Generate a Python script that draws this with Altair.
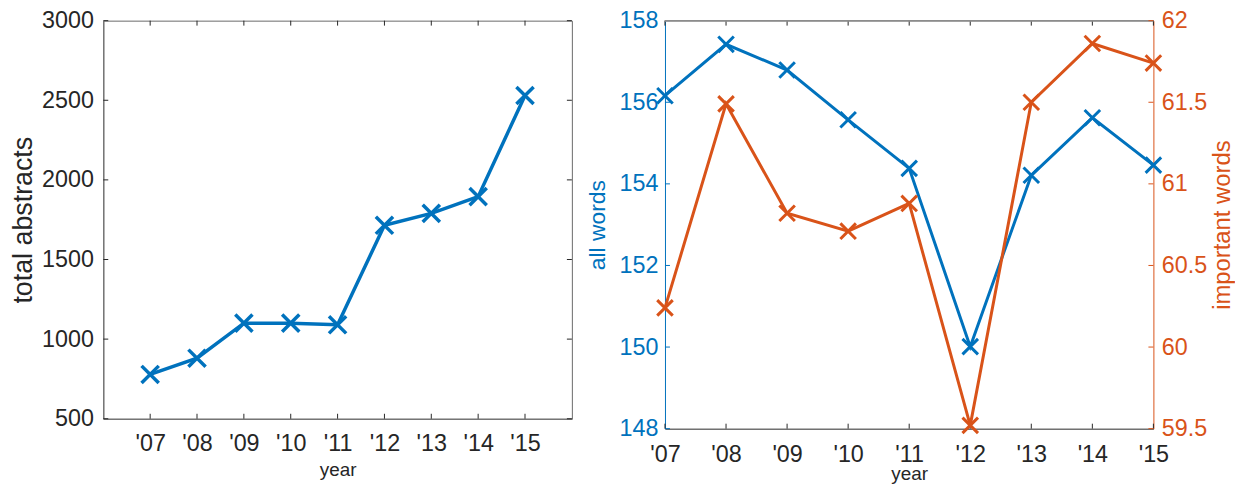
import json
import altair as alt
import pandas as pd

# ---- data ----
years = [7, 8, 9, 10, 11, 12, 13, 14, 15]
year_labels = ["'07", "'08", "'09", "'10", "'11", "'12", "'13", "'14", "'15"]
total_abstracts = [778, 880, 1100, 1100, 1090, 1715, 1790, 1895, 2530]
all_words = [156.16, 157.42, 156.79, 155.57, 154.38, 150.01, 154.21, 155.62, 154.46]
important_words = [60.24, 61.49, 60.82, 60.71, 60.88, 59.52, 61.50, 61.86, 61.74]
left_ticks = [500, 1000, 1500, 2000, 2500, 3000]
allw_ticks = [148, 150, 152, 154, 156, 158]
impw_ticks = [59.5, 60, 60.5, 61, 61.5, 62]

BLUE = "#0072BD"
ORANGE = "#D95319"
DARK = "#262626"
BOX = "#6a6a6a"
FONT = "Liberation Sans"
XPATH = "M-1,-1L1,1M-1,1L1,-1"
LBL = 23.5

label_expr = json.dumps(year_labels) + "[datum.value - 7]"

df = pd.DataFrame({"year": years, "total": total_abstracts,
                   "allw": all_words, "impw": important_words})
df_xt = pd.DataFrame({"year": years})
df_lt = pd.DataFrame({"v": left_ticks})
df_at = pd.DataFrame({"v": allw_ticks})
df_it = pd.DataFrame({"v": impw_ticks})

# ---------------- left panel ----------------
LW, LH = 472, 401
lx = alt.Scale(domain=[6, 16], nice=False, zero=False)
ly = alt.Scale(domain=[500, 3000], nice=False, zero=False)
lx_axis = alt.Axis(
    values=years, labelExpr=label_expr, title="year", tickSize=0,
    labelFontSize=LBL, labelPadding=13, titleFontSize=19, titleFontWeight="normal",
    titlePadding=6, domainColor=BOX, labelColor=DARK, titleColor=DARK, grid=False,
    labelFlush=False)
ly_axis = alt.Axis(
    values=left_ticks, format="d", title="total abstracts", tickSize=0,
    labelFontSize=LBL, labelPadding=10, titleFontSize=27, titleFontWeight="normal",
    titlePadding=4, domainColor=BOX, labelColor=DARK, titleColor=DARK, grid=False,
    labelFlush=False)

LX = alt.X("year:Q", scale=lx, axis=lx_axis)

lbase = alt.Chart(df)
l_line = lbase.mark_line(color=BLUE, strokeWidth=3.5).encode(
    x=LX, y=alt.Y("total:Q", scale=ly, axis=ly_axis))
l_pts = lbase.mark_point(shape=XPATH, size=300, strokeWidth=3.5, color=BLUE,
                         filled=False, opacity=1).encode(
    x=LX, y=alt.Y("total:Q", scale=ly, axis=ly_axis))
l_xt_b = alt.Chart(df_xt).mark_rule(color=DARK, strokeWidth=1).encode(
    x=LX, y=alt.value(LH), y2=alt.value(LH - 5))
l_xt_t = alt.Chart(df_xt).mark_rule(color=DARK, strokeWidth=1).encode(
    x=LX, y=alt.value(0), y2=alt.value(5))
l_yt_l = alt.Chart(df_lt).mark_rule(color=DARK, strokeWidth=1).encode(
    y=alt.Y("v:Q", scale=ly, axis=ly_axis), x=alt.value(0), x2=alt.value(5))
l_yt_r = alt.Chart(df_lt).mark_rule(color=DARK, strokeWidth=1).encode(
    y=alt.Y("v:Q", scale=ly, axis=ly_axis), x=alt.value(LW), x2=alt.value(LW - 5))

left = alt.layer(l_line, l_pts, l_xt_b, l_xt_t, l_yt_l, l_yt_r).properties(
    width=LW, height=LH)

# ---------------- right panel ----------------
RW, RH = 492, 411
rx = alt.Scale(domain=[7, 15], nice=False, zero=False)
ay = alt.Scale(domain=[148, 158], nice=False, zero=False)
iy = alt.Scale(domain=[59.5, 62], nice=False, zero=False)

rx_axis = alt.Axis(values=years, labelExpr=label_expr, title="year", tickSize=0,
                   labelFontSize=LBL, labelPadding=14.5, titleFontSize=19,
                   titleFontWeight="normal", titlePadding=-2, domainColor=DARK,
                   labelColor=DARK, titleColor=DARK, grid=False, labelFlush=False)
ay_axis = alt.Axis(
    orient="left", values=allw_ticks, title="all words", tickSize=0,
    labelFontSize=LBL, labelPadding=7, titleFontSize=23, titleFontWeight="normal",
    titlePadding=10, domainColor=BLUE, labelColor=BLUE, titleColor=BLUE,
    grid=False, labelFlush=False)
iy_axis = alt.Axis(
    orient="right", values=impw_ticks, format="~g", title="important words",
    tickSize=0, labelFontSize=LBL, labelPadding=8, titleFontSize=24,
    titleFontWeight="normal", titlePadding=4, titleAngle=270, titleBaseline="top",
    domainColor=ORANGE, labelColor=ORANGE, titleColor=ORANGE, grid=False,
    labelFlush=False)

RX = alt.X("year:Q", scale=rx, axis=rx_axis)
AY = alt.Y("allw:Q", scale=ay, axis=ay_axis)
IY = alt.Y("impw:Q", scale=iy, axis=iy_axis)

rbase = alt.Chart(df)
a_line = rbase.mark_line(color=BLUE, strokeWidth=3).encode(x=RX, y=AY)
a_pts = rbase.mark_point(shape=XPATH, size=245, strokeWidth=3, color=BLUE,
                         filled=False, opacity=1).encode(x=RX, y=AY)
a_tk = alt.Chart(df_at).mark_rule(color=BLUE, strokeWidth=1).encode(
    y=alt.Y("v:Q", scale=ay, axis=ay_axis), x=alt.value(0), x2=alt.value(5))
r_xt_b = alt.Chart(df_xt).mark_rule(color=DARK, strokeWidth=1).encode(
    x=RX, y=alt.value(RH), y2=alt.value(RH - 5))
r_xt_t = alt.Chart(df_xt).mark_rule(color=DARK, strokeWidth=1).encode(
    x=RX, y=alt.value(0), y2=alt.value(5))
r_top = alt.Chart(df_xt).mark_rule(color="#8c8c8c", strokeWidth=1).encode(
    x=alt.value(0), x2=alt.value(RW), y=alt.value(0))

blue_layer = alt.layer(a_line, a_pts, a_tk, r_xt_b, r_xt_t, r_top)

i_line = rbase.mark_line(color=ORANGE, strokeWidth=3).encode(x=RX, y=IY)
i_pts = rbase.mark_point(shape=XPATH, size=245, strokeWidth=3, color=ORANGE,
                         filled=False, opacity=1).encode(x=RX, y=IY)
i_tk = alt.Chart(df_it).mark_rule(color=ORANGE, strokeWidth=1).encode(
    y=alt.Y("v:Q", scale=iy, axis=iy_axis), x=alt.value(RW), x2=alt.value(RW - 5))

orange_layer = alt.layer(i_line, i_pts, i_tk)

right = alt.layer(blue_layer, orange_layer).resolve_scale(y="independent").properties(
    width=RW, height=RH, view=alt.ViewConfig(stroke=None))

chart = alt.hconcat(left, right, spacing=12.8).properties(
    padding={"left": 1, "top": -2, "right": 0, "bottom": 0}
).configure(font=FONT).configure_view(stroke=BOX)

chart.save("out.html", embed_options={"renderer": "svg", "actions": False})
